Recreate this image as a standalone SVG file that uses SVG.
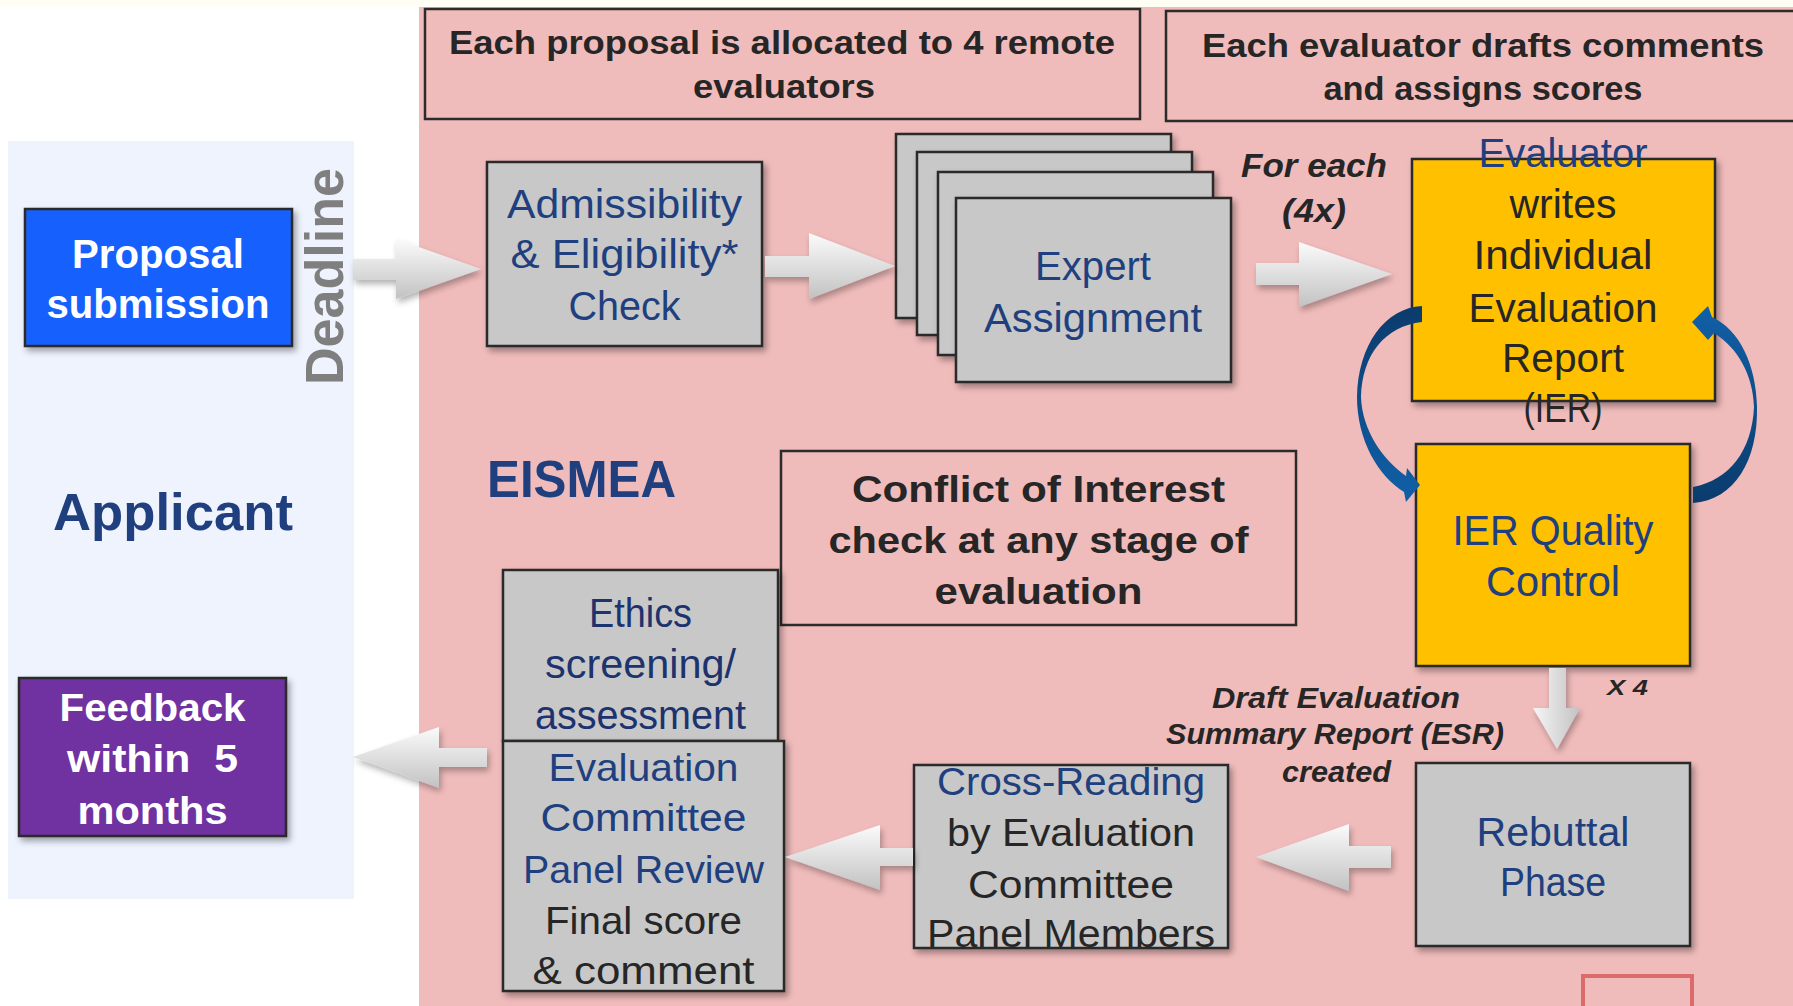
<svg xmlns="http://www.w3.org/2000/svg" width="1793" height="1006" viewBox="0 0 1793 1006">
<style>
.t{font-family:"Liberation Sans",Arial,sans-serif}
.b{font-weight:bold}
.i{font-style:italic}
.bx{stroke:#2b2b2b;stroke-width:2.5}
.gray{fill:#C8C8C8}
.org{fill:#FFC000}
.blue{fill:#203F7E}
.dark{fill:#262626}
.wh{fill:#FFFFFF}
.f41{font-size:41px}
.f39{font-size:39px}
.f34{font-size:34px}
.f37{font-size:37px}
.f40{font-size:40px}
.arr{fill:url(#ag);filter:url(#ash)}
.arrv{fill:url(#agv);filter:url(#ash)}
</style>
<defs>
<filter id="sh" x="-10%" y="-10%" width="130%" height="130%">
<feDropShadow dx="3" dy="4" stdDeviation="3" flood-color="#000" flood-opacity="0.35"/>
</filter>
<filter id="ash" x="-10%" y="-20%" width="130%" height="150%">
<feDropShadow dx="2" dy="4" stdDeviation="3" flood-color="#000" flood-opacity="0.3"/>
</filter>
<linearGradient id="ag" x1="0" y1="0" x2="0" y2="1">
<stop offset="0" stop-color="#FBFBFB"/>
<stop offset="1" stop-color="#C2C2C2"/>
</linearGradient>
<linearGradient id="agv" x1="0" y1="0" x2="1" y2="0">
<stop offset="0" stop-color="#F6F6F6"/>
<stop offset="1" stop-color="#C2C2C2"/>
</linearGradient>
<linearGradient id="cl" x1="0" y1="0" x2="0" y2="1">
<stop offset="0" stop-color="#0B3B6C"/>
<stop offset="1" stop-color="#1160A8"/>
</linearGradient>
<linearGradient id="cr" x1="0" y1="1" x2="0" y2="0">
<stop offset="0" stop-color="#0B3B6C"/>
<stop offset="1" stop-color="#1160A8"/>
</linearGradient>
</defs>

<!-- backgrounds -->
<rect x="0" y="0" width="1793" height="1006" fill="#FFFFFF"/>
<rect x="0" y="0" width="1793" height="7" fill="#FFFEF4"/>
<rect x="419" y="7" width="1374" height="999" fill="#F0BBBB"/>
<rect x="8" y="141" width="346" height="758" fill="#EEF3FE"/>

<!-- top info boxes -->
<g id="info-allocation">
<rect x="425" y="9" width="715" height="110" fill="none" class="bx"/>
<text class="t b dark f34" x="782" y="54" text-anchor="middle" textLength="666" lengthAdjust="spacingAndGlyphs">Each proposal is allocated to 4 remote</text>
<text class="t b dark f34" x="784" y="98" text-anchor="middle" textLength="182" lengthAdjust="spacingAndGlyphs">evaluators</text>
</g>
<g id="info-drafts">
<rect x="1166" y="11" width="700" height="110" fill="none" class="bx"/>
<text class="t b dark f34" x="1483" y="57" text-anchor="middle" textLength="562" lengthAdjust="spacingAndGlyphs">Each evaluator drafts comments</text>
<text class="t b dark f34" x="1483" y="100" text-anchor="middle" textLength="319" lengthAdjust="spacingAndGlyphs">and assigns scores</text>
</g>

<g id="proposal">
<rect x="25" y="209" width="267" height="137" fill="#1660FD" class="bx" filter="url(#sh)"/>
<text class="t b wh f40" x="158" y="268" text-anchor="middle" textLength="172" lengthAdjust="spacingAndGlyphs">Proposal</text>
<text class="t b wh f40" x="158" y="318" text-anchor="middle" textLength="223" lengthAdjust="spacingAndGlyphs">submission</text>
</g>

<g id="deadline">
<text class="t b" transform="translate(343,385) rotate(-90)" x="0" y="0" font-size="54" fill="#7F7F7F" textLength="217" lengthAdjust="spacingAndGlyphs">Deadline</text>
</g>

<g id="admissibility">
<rect x="487" y="162" width="275" height="184" class="gray bx" filter="url(#sh)"/>
<text class="t blue f41" x="624.5" y="218" text-anchor="middle" textLength="235" lengthAdjust="spacingAndGlyphs">Admissibility</text>
<text class="t blue f41" x="624.5" y="268" text-anchor="middle" textLength="228" lengthAdjust="spacingAndGlyphs">&amp; Eligibility*</text>
<text class="t blue f41" x="624.5" y="320" text-anchor="middle" textLength="112" lengthAdjust="spacingAndGlyphs">Check</text>
</g>

<g id="expert">
<rect x="896" y="134" width="275" height="184" class="gray bx" filter="url(#sh)"/>
<rect x="917" y="152" width="275" height="183" class="gray bx" filter="url(#sh)"/>
<rect x="938" y="172" width="275" height="183" class="gray bx" filter="url(#sh)"/>
<rect x="956" y="198" width="275" height="184" class="gray bx" filter="url(#sh)"/>
<text class="t blue f41" x="1093" y="280" text-anchor="middle" textLength="116" lengthAdjust="spacingAndGlyphs">Expert</text>
<text class="t blue f41" x="1093" y="332" text-anchor="middle" textLength="218" lengthAdjust="spacingAndGlyphs">Assignment</text>
</g>

<g id="for-each">
<text class="t b i dark" font-size="33" x="1314" y="177" text-anchor="middle" textLength="146" lengthAdjust="spacingAndGlyphs">For each</text>
<text class="t b i dark" font-size="33" x="1314" y="222" text-anchor="middle" textLength="64" lengthAdjust="spacingAndGlyphs">(4x)</text>
</g>

<g id="evaluator">
<rect x="1412" y="159" width="303" height="242" class="org bx" filter="url(#sh)"/>
<text class="t blue f41" x="1563" y="167" text-anchor="middle" textLength="169" lengthAdjust="spacingAndGlyphs">Evaluator</text>
<text class="t dark f41" x="1563" y="218" text-anchor="middle" textLength="107" lengthAdjust="spacingAndGlyphs">writes</text>
<text class="t dark f41" x="1563" y="269" text-anchor="middle" textLength="179" lengthAdjust="spacingAndGlyphs">Individual</text>
<text class="t dark f41" x="1563" y="322" text-anchor="middle" textLength="189" lengthAdjust="spacingAndGlyphs">Evaluation</text>
<text class="t dark f41" x="1563" y="372" text-anchor="middle" textLength="122" lengthAdjust="spacingAndGlyphs">Report</text>
<text class="t dark f41" x="1563" y="422" text-anchor="middle" textLength="79" lengthAdjust="spacingAndGlyphs">(IER)</text>
</g>

<g id="quality">
<rect x="1416" y="444" width="274" height="222" class="org bx" filter="url(#sh)"/>
<text class="t blue" font-size="43" x="1553" y="545" text-anchor="middle" textLength="201" lengthAdjust="spacingAndGlyphs">IER Quality</text>
<text class="t blue" font-size="43" x="1553" y="596" text-anchor="middle" textLength="134" lengthAdjust="spacingAndGlyphs">Control</text>
</g>

<g id="eismea">
<text class="t b blue" font-size="51" x="487" y="497" textLength="189" lengthAdjust="spacingAndGlyphs">EISMEA</text>
</g>
<g id="applicant">
<text class="t b blue" font-size="52" x="53" y="530" textLength="240" lengthAdjust="spacingAndGlyphs">Applicant</text>
</g>

<g id="conflict">
<rect x="781" y="451" width="515" height="174" fill="none" class="bx"/>
<text class="t b dark f37" x="1038.5" y="502" text-anchor="middle" textLength="373" lengthAdjust="spacingAndGlyphs">Conflict of Interest</text>
<text class="t b dark f37" x="1038.5" y="553" text-anchor="middle" textLength="420" lengthAdjust="spacingAndGlyphs">check at any stage of</text>
<text class="t b dark f37" x="1038.5" y="604" text-anchor="middle" textLength="208" lengthAdjust="spacingAndGlyphs">evaluation</text>
</g>

<g id="ethics">
<rect x="503" y="570" width="275" height="171" class="gray bx" filter="url(#sh)"/>
<text class="t f41" fill="#1C336E" x="640.5" y="627" text-anchor="middle" textLength="103" lengthAdjust="spacingAndGlyphs">Ethics</text>
<text class="t f41" fill="#1C336E" x="640.5" y="678" text-anchor="middle" textLength="191" lengthAdjust="spacingAndGlyphs">screening/</text>
<text class="t f41" fill="#1C336E" x="640.5" y="729" text-anchor="middle" textLength="211" lengthAdjust="spacingAndGlyphs">assessment</text>
</g>

<g id="committee">
<rect x="503" y="741" width="281" height="250" class="gray bx" filter="url(#sh)"/>
<text class="t blue f39" x="643.5" y="781" text-anchor="middle" textLength="190" lengthAdjust="spacingAndGlyphs">Evaluation</text>
<text class="t blue f39" x="643.5" y="831" text-anchor="middle" textLength="206" lengthAdjust="spacingAndGlyphs">Committee</text>
<text class="t blue f39" x="643.5" y="883" text-anchor="middle" textLength="241" lengthAdjust="spacingAndGlyphs">Panel Review</text>
<text class="t dark f39" x="643.5" y="934" text-anchor="middle" textLength="197" lengthAdjust="spacingAndGlyphs">Final score</text>
<text class="t dark f39" x="643.5" y="984" text-anchor="middle" textLength="222" lengthAdjust="spacingAndGlyphs">&amp; comment</text>
</g>

<g id="feedback">
<rect x="19" y="678" width="267" height="158" fill="#7030A0" class="bx" filter="url(#sh)"/>
<text class="t b wh" font-size="39" x="152.5" y="721" text-anchor="middle" textLength="186" lengthAdjust="spacingAndGlyphs">Feedback</text>
<text class="t b wh" font-size="39" x="152.5" y="772" text-anchor="middle" textLength="171" lengthAdjust="spacingAndGlyphs" xml:space="preserve">within  5</text>
<text class="t b wh" font-size="39" x="152.5" y="824" text-anchor="middle" textLength="150" lengthAdjust="spacingAndGlyphs">months</text>
</g>

<g id="cross-reading">
<rect x="914" y="765" width="314" height="183" class="gray bx" filter="url(#sh)"/>
<text class="t blue f39" x="1071" y="795" text-anchor="middle" textLength="268" lengthAdjust="spacingAndGlyphs">Cross-Reading</text>
<text class="t dark f39" x="1071" y="846" text-anchor="middle" textLength="248" lengthAdjust="spacingAndGlyphs">by Evaluation</text>
<text class="t dark f39" x="1071" y="898" text-anchor="middle" textLength="206" lengthAdjust="spacingAndGlyphs">Committee</text>
<text class="t dark f39" x="1071" y="947" text-anchor="middle" textLength="288" lengthAdjust="spacingAndGlyphs">Panel Members</text>
</g>

<g id="rebuttal">
<rect x="1416" y="763" width="274" height="183" class="gray bx" filter="url(#sh)"/>
<text class="t blue f41" x="1553" y="846" text-anchor="middle" textLength="153" lengthAdjust="spacingAndGlyphs">Rebuttal</text>
<text class="t blue f41" x="1553" y="896" text-anchor="middle" textLength="106" lengthAdjust="spacingAndGlyphs">Phase</text>
</g>

<g id="draft-label">
<text class="t b i dark" font-size="29" x="1336" y="708" text-anchor="middle" textLength="248" lengthAdjust="spacingAndGlyphs">Draft Evaluation</text>
<text class="t b i dark" font-size="29" x="1335" y="744" text-anchor="middle" textLength="338" lengthAdjust="spacingAndGlyphs">Summary Report (ESR)</text>
<text class="t b i dark" font-size="29" x="1336.5" y="782" text-anchor="middle" textLength="109" lengthAdjust="spacingAndGlyphs">created</text>
</g>
<g id="x4-label">
<text class="t b i dark" font-size="22" x="1627.5" y="695" text-anchor="middle" textLength="41" lengthAdjust="spacingAndGlyphs">X 4</text>
</g>

<g id="red-rect">
<rect x="1583" y="976" width="109" height="40" fill="none" stroke="#DB6A6A" stroke-width="4"/>
</g>

<!-- connectors -->
<g id="connectors">
<path class="arr" d="M353,259 H396 V239 L481,269 L396,299 V280 H353 Z"/>
<path class="arr" d="M765,256 H809 V233 L895,266 L809,299 V277 H765 Z"/>
<path class="arr" d="M1256,263 H1299 V242 L1392,274 L1299,307 V285 H1256 Z"/>
<path class="arrv" d="M1549,668 V708 H1533 L1557,749 L1580,708 H1566 V668 Z"/>
<path class="arr" d="M1391,846 H1349 V824 L1256,857 L1349,891 V868 H1391 Z"/>
<path class="arr" d="M913,848 H880 V825 L785,857 L880,890 V866 H913 Z"/>
<path class="arr" d="M487,748 H439 V727 L353,757 L439,788 V767 H487 Z"/>
<path fill="url(#cl)" d="M1422,306 C1385,308 1358,345 1357,397 C1357,440 1378,476 1404,492 L1406,502 L1420,485 L1407,468 L1406,476 C1383,460 1362,430 1361,397 C1362,355 1385,326 1422,322 Z"/>
<path fill="url(#cr)" d="M1693,503 C1735,500 1758,460 1757,407 C1756,365 1740,330 1712,317 L1708,306 L1692,322 L1708,340 L1714,333 C1738,348 1753,375 1754,407 C1752,450 1730,480 1693,487 Z"/>
</g>
</svg>
